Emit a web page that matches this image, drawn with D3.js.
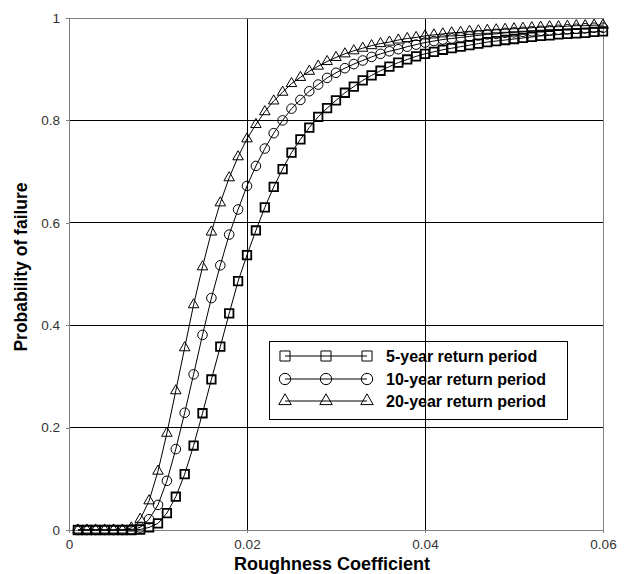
<!DOCTYPE html>
<html>
<head>
<meta charset="utf-8">
<script src="https://cdn.jsdelivr.net/npm/d3@7"></script>
<style>
  body { margin: 0; background: #fff; }
  svg { display: block; font-family: Arial, "Liberation Sans", sans-serif; }
</style>
</head>
<body>
<div id="chart"></div>
<script>
const roughness = [0.001, 0.002, 0.003, 0.004, 0.005, 0.006, 0.007, 0.008, 0.009, 0.010,
  0.011, 0.012, 0.013, 0.014, 0.015, 0.016, 0.017, 0.018, 0.019, 0.020,
  0.021, 0.022, 0.023, 0.024, 0.025, 0.026, 0.027, 0.028, 0.029, 0.030,
  0.031, 0.032, 0.033, 0.034, 0.035, 0.036, 0.037, 0.038, 0.039, 0.040,
  0.041, 0.042, 0.043, 0.044, 0.045, 0.046, 0.047, 0.048, 0.049, 0.050,
  0.051, 0.052, 0.053, 0.054, 0.055, 0.056, 0.057, 0.058, 0.059, 0.060];

const p5yr = [0, 0, 0, 0, 0, 0, 0, 0.001, 0.005, 0.013,
  0.033, 0.065, 0.109, 0.165, 0.228, 0.294, 0.358, 0.423, 0.486, 0.537,
  0.585, 0.630, 0.670, 0.705, 0.737, 0.763, 0.786, 0.807, 0.824, 0.839,
  0.854, 0.866, 0.878, 0.888, 0.897, 0.905, 0.913, 0.919, 0.925, 0.930,
  0.934, 0.938, 0.941, 0.944, 0.947, 0.950, 0.953, 0.955, 0.957, 0.959,
  0.961, 0.963, 0.965, 0.966, 0.968, 0.969, 0.970, 0.971, 0.973, 0.974];

const p10yr = [0, 0, 0, 0, 0, 0, 0.001, 0.005, 0.021, 0.049,
  0.096, 0.158, 0.229, 0.304, 0.381, 0.453, 0.517, 0.577, 0.626, 0.672,
  0.711, 0.745, 0.775, 0.800, 0.823, 0.840, 0.857, 0.870, 0.883, 0.893,
  0.902, 0.910, 0.917, 0.924, 0.930, 0.935, 0.939, 0.944, 0.948, 0.952,
  0.955, 0.958, 0.960, 0.962, 0.964, 0.966, 0.968, 0.969, 0.971, 0.972,
  0.973, 0.974, 0.975, 0.976, 0.977, 0.978, 0.979, 0.980, 0.981, 0.981];

const p20yr = [0, 0, 0, 0, 0, 0, 0.004, 0.021, 0.057, 0.115,
  0.189, 0.272, 0.356, 0.440, 0.514, 0.582, 0.639, 0.688, 0.729, 0.764,
  0.792, 0.817, 0.838, 0.855, 0.872, 0.884, 0.896, 0.906, 0.915, 0.923,
  0.930, 0.936, 0.941, 0.946, 0.950, 0.953, 0.957, 0.960, 0.962, 0.965,
  0.967, 0.969, 0.971, 0.972, 0.974, 0.975, 0.976, 0.977, 0.978, 0.979,
  0.980, 0.981, 0.982, 0.983, 0.983, 0.984, 0.985, 0.985, 0.986, 0.986];

const seriesNames = ['5-year return period', '10-year return period', '20-year return period'];
const xTicks = [0, 0.02, 0.04, 0.06];
const yTicks = [0, 0.2, 0.4, 0.6, 0.8, 1];

const width = 629, height = 574;
const margin = { top: 18, right: 26, bottom: 44, left: 69 };

const x = d3.scaleLinear().domain([0, 0.06]).range([margin.left, width - margin.right]);
const y = d3.scaleLinear().domain([0, 1]).range([height - margin.bottom, margin.top]);

const svg = d3.select('#chart').append('svg')
  .attr('width', width)
  .attr('height', height);

// gridlines
svg.append('g')
  .selectAll('line.hgrid')
  .data(yTicks.slice(1))
  .join('line')
  .attr('x1', x(0)).attr('x2', x(0.06))
  .attr('y1', d => y(d)).attr('y2', d => y(d))
  .attr('stroke', '#000').attr('shape-rendering', 'crispEdges');

svg.append('g')
  .selectAll('line.vgrid')
  .data(xTicks.slice(1))
  .join('line')
  .attr('x1', d => x(d)).attr('x2', d => x(d))
  .attr('y1', y(0)).attr('y2', y(1))
  .attr('stroke', '#000').attr('shape-rendering', 'crispEdges');

// axes
const xAxis = svg.append('g')
  .attr('transform', `translate(0,${y(0)})`)
  .call(d3.axisBottom(x).tickValues(xTicks).tickSize(3).tickPadding(6)
    .tickFormat(d => d === 0 ? '0' : d3.format('.2f')(d)));

const yAxis = svg.append('g')
  .attr('transform', `translate(${x(0)},0)`)
  .call(d3.axisLeft(y).tickValues(yTicks).tickSize(3).tickPadding(6)
    .tickFormat(d => d3.format('~g')(d)));

[xAxis, yAxis].forEach(g => {
  g.select('.domain').attr('stroke', '#808080').attr('shape-rendering', 'crispEdges');
  g.selectAll('.tick line').attr('stroke', '#808080').attr('shape-rendering', 'crispEdges');
  g.selectAll('.tick text').attr('fill', '#333').style('font-size', '13.5px')
    .style('font-family', 'Arial, "Liberation Sans", sans-serif');
});

// plot frame (top and right)
svg.append('rect')
  .attr('x', x(0)).attr('y', y(1))
  .attr('width', x(0.06) - x(0)).attr('height', y(0) - y(1))
  .attr('fill', 'none').attr('stroke', '#808080').attr('shape-rendering', 'crispEdges');

// series
const symbols = [d3.symbolSquare, d3.symbolCircle, d3.symbolTriangle];
const symbolSizes = [72, 72, 48];
const symbolStrokes = [1.8, 1, 1];
const allSeries = [p5yr, p10yr, p20yr];

const line = d3.line()
  .x((d, i) => x(roughness[i]))
  .y(d => y(d));

allSeries.forEach((vals, s) => {
  const g = svg.append('g').attr('class', 'series-' + s);
  g.append('path')
    .datum(vals)
    .attr('d', line)
    .attr('fill', 'none')
    .attr('stroke', '#000')
    .attr('stroke-width', 1);

  g.selectAll('path.marker')
    .data(vals)
    .join('path')
    .attr('class', 'marker')
    .attr('transform', (d, i) => `translate(${x(roughness[i])},${y(d)})`)
    .attr('d', d3.symbol().type(symbols[s]).size(symbolSizes[s]))
    .attr('fill', 'none')
    .attr('stroke', '#000')
    .attr('stroke-width', symbolStrokes[s]);
});

// legend
const legend = svg.append('g').attr('transform', 'translate(269,341)');
legend.append('rect')
  .attr('width', 298).attr('height', 78)
  .attr('fill', 'none').attr('stroke', '#000').attr('shape-rendering', 'crispEdges');

const rowY = [15, 38, 60];
const markX = [16, 57, 98];

seriesNames.forEach((name, s) => {
  const row = legend.append('g').attr('transform', `translate(0,${rowY[s]})`);
  row.append('line')
    .attr('x1', markX[0]).attr('x2', markX[2])
    .attr('stroke', '#000');
  markX.forEach(mx => {
    row.append('path')
      .attr('transform', `translate(${mx},0)`)
      .attr('d', d3.symbol().type(symbols[s]).size(symbolSizes[s] * 1.4))
      .attr('fill', 'none')
      .attr('stroke', '#000')
      .attr('stroke-width', 1);
  });
  row.append('text')
    .attr('x', 117).attr('dy', '0.35em')
    .style('font-size', '16px').style('font-weight', 'bold')
    .attr('fill', '#000')
    .text(name);
});

// axis titles
svg.append('text')
  .attr('x', 332).attr('y', 570)
  .attr('text-anchor', 'middle')
  .style('font-size', '18px').style('font-weight', 'bold')
  .text('Roughness Coefficient');

svg.append('text')
  .attr('transform', 'translate(27,267) rotate(-90)')
  .attr('text-anchor', 'middle')
  .style('font-size', '17.5px').style('font-weight', 'bold')
  .text('Probability of failure');
</script>
</body>
</html>
